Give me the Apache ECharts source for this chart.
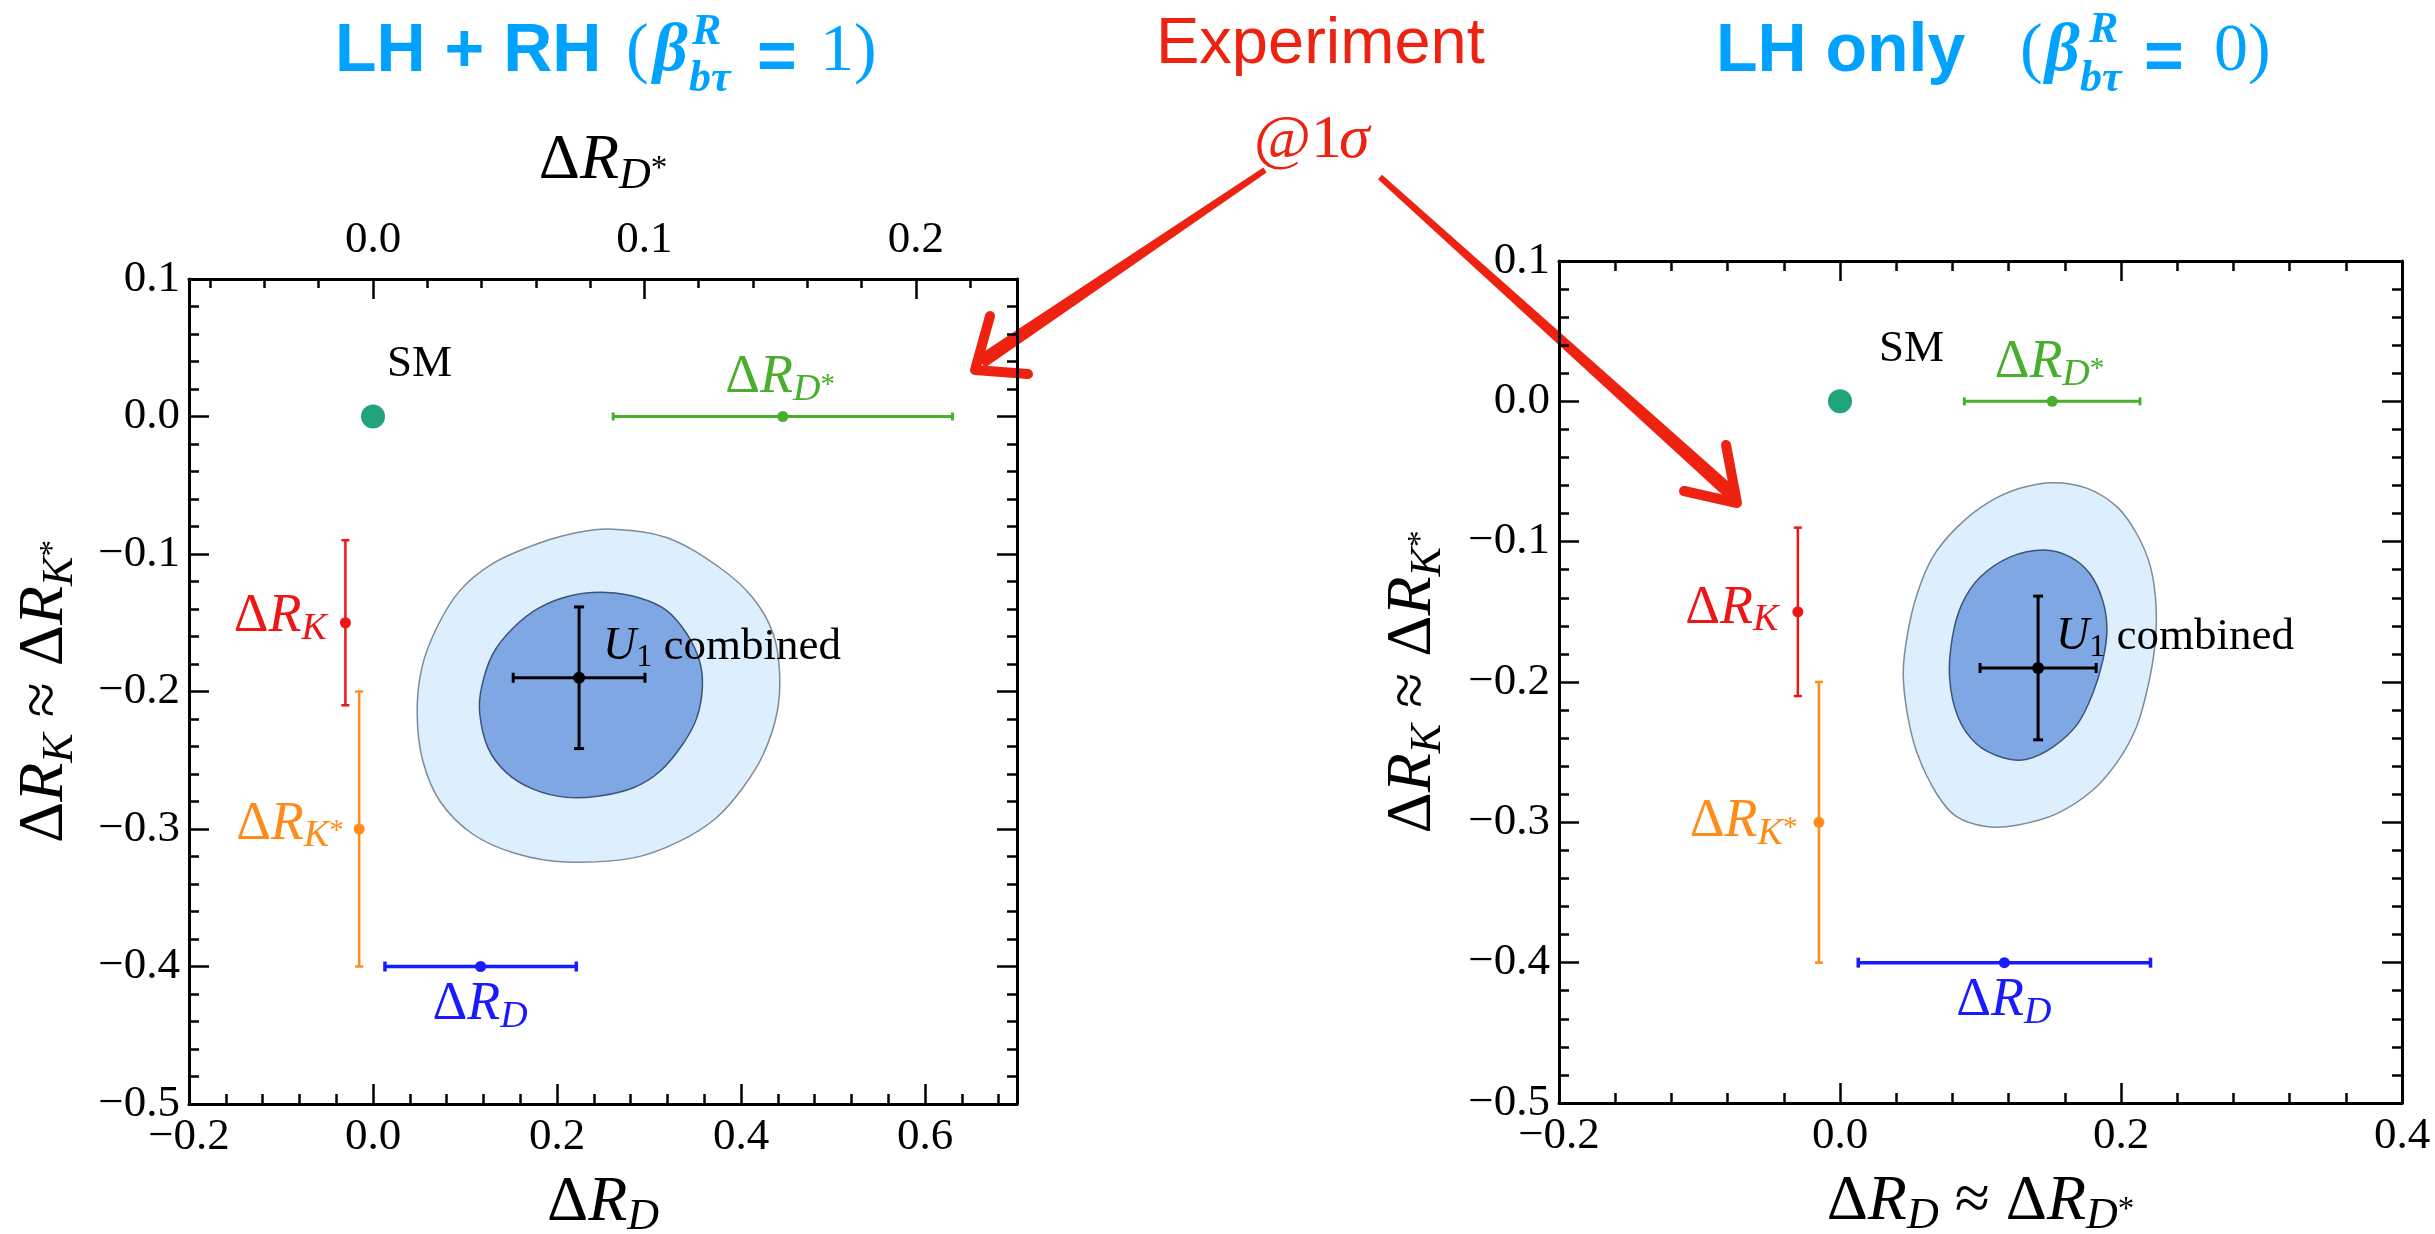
<!DOCTYPE html>
<html><head><meta charset="utf-8">
<script src="https://cdn.jsdelivr.net/npm/echarts@6/dist/echarts.min.js"></script>
<style>html,body{margin:0;padding:0;background:#fff}#chart{width:2435px;height:1234px}</style>
</head><body><div id="chart"></div>
<script>
// ---------------- axis ticks ----------------
const yTicks = [-0.5, -0.4, -0.3, -0.2, -0.1, 0.0, 0.1];
const leftXTicks = [-0.2, 0.0, 0.2, 0.4, 0.6];
const leftXRange = [-0.2, 0.7];
const leftDStarTicks = [0.0, 0.1, 0.2];
const leftDStarMinorTicks = [-0.06, -0.04, -0.02, 0.02, 0.04, 0.06, 0.08, 0.12, 0.14, 0.16, 0.18, 0.22];
const dStarPerD = 2.95;          // top axis of left panel: ΔR_D units per unit of ΔR_D*
const rightXTicks = [-0.2, 0.0, 0.2, 0.4];

// ---------------- data ----------------
const smPoint = [0.0, 0.0];
// experiment @1σ : [x, y, xErr, yErr]
const expRDstar = [0.151, 0.0, 0.0625, 0];   // ΔR_D* (left panel: read on top ΔR_D* axis)
const expRK = [-0.030, -0.150, 0, 0.060];
const expRKstar = [-0.015, -0.300, 0, 0.100];
const expRD = [0.117, -0.400, 0.104, 0];
// U1 combined best fit : [x, y, xErr, yErr]
const u1FitLeft = [0.224, -0.190, 0.0716, 0.0515];
const u1FitRight = [0.141, -0.190, 0.0413, 0.0512];

// confidence contours (LH + RH)
const leftOuter = [[0.261,-0.082],[0.319,-0.088],[0.377,-0.110],[0.413,-0.132],[0.435,-0.158],[0.442,-0.187],[0.439,-0.216],[0.424,-0.246],[0.402,-0.270],[0.373,-0.292],[0.333,-0.309],[0.283,-0.321],[0.210,-0.324],[0.156,-0.318],[0.109,-0.304],[0.073,-0.280],[0.054,-0.250],[0.048,-0.216],[0.053,-0.183],[0.069,-0.154],[0.094,-0.127],[0.130,-0.107],[0.181,-0.092],[0.225,-0.084]];
const leftInner = [[0.254,-0.128],[0.290,-0.132],[0.319,-0.141],[0.341,-0.158],[0.355,-0.178],[0.358,-0.197],[0.352,-0.219],[0.337,-0.238],[0.312,-0.258],[0.283,-0.270],[0.246,-0.276],[0.210,-0.277],[0.174,-0.271],[0.145,-0.259],[0.125,-0.241],[0.116,-0.216],[0.118,-0.197],[0.130,-0.173],[0.152,-0.154],[0.181,-0.139],[0.217,-0.130]];
// confidence contours (LH only)
const rightOuter = [[0.152,-0.058],[0.176,-0.062],[0.197,-0.075],[0.211,-0.094],[0.221,-0.118],[0.225,-0.147],[0.224,-0.175],[0.219,-0.204],[0.211,-0.232],[0.198,-0.256],[0.180,-0.277],[0.154,-0.294],[0.126,-0.302],[0.104,-0.303],[0.083,-0.296],[0.069,-0.280],[0.055,-0.251],[0.048,-0.223],[0.045,-0.194],[0.048,-0.166],[0.055,-0.137],[0.066,-0.111],[0.083,-0.090],[0.104,-0.073],[0.128,-0.062]];
const rightInner = [[0.145,-0.106],[0.164,-0.111],[0.178,-0.123],[0.187,-0.142],[0.190,-0.163],[0.187,-0.185],[0.180,-0.208],[0.169,-0.230],[0.152,-0.246],[0.133,-0.255],[0.116,-0.254],[0.097,-0.244],[0.084,-0.225],[0.078,-0.197],[0.080,-0.168],[0.087,-0.144],[0.100,-0.125],[0.121,-0.111]];

// ---------------- styles ----------------
const SERIF = 'Liberation Serif';
const TITLE_BLUE = '#00a2ff';
const RED_TXT = '#ee2211';
const C_RK = '#ee1515', C_RKS = '#ff8c1a', C_RDS = '#48ae2b', C_RD = '#1a1aff', C_SM = '#21a37c';

const axisLineStyle = {color: '#000', width: 3};
const tickStyle = {color: '#000', width: 2.5};
const tickLabel = {fontFamily: SERIF, fontSize: 45, color: '#000'};
function fmt(v) { const r = Math.round(v * 10) / 10; return (r < 0 ? '\u2212' : '') + Math.abs(r).toFixed(1); }
function fmtIn(list) { return v => list.some(t => Math.abs(t - v) < 1e-9) ? fmt(v) : ''; }

const axisRich = {
  d: {fontFamily: SERIF, fontSize: 64, lineHeight: 76, height: 76, color: '#000'},
  r: {fontFamily: SERIF, fontStyle: 'italic', fontSize: 64, lineHeight: 76, height: 76, color: '#000'},
  s: {fontFamily: SERIF, fontStyle: 'italic', fontSize: 44, lineHeight: 46, height: 46, verticalAlign: 'bottom', color: '#000'},
  st: {fontFamily: SERIF, fontSize: 33, lineHeight: 60, height: 60, verticalAlign: 'bottom', color: '#000'},
  a: {fontFamily: SERIF, fontSize: 64, lineHeight: 76, height: 76, color: '#000'}
};
function labelRich(color) {
  return {
    d: {fontFamily: SERIF, fontSize: 54, lineHeight: 64, height: 64, color},
    r: {fontFamily: SERIF, fontStyle: 'italic', fontSize: 54, lineHeight: 64, height: 64, color},
    s: {fontFamily: SERIF, fontStyle: 'italic', fontSize: 38, lineHeight: 40, height: 40, verticalAlign: 'bottom', color},
    st: {fontFamily: SERIF, fontSize: 29, lineHeight: 50, height: 50, verticalAlign: 'bottom', color},
    n: {fontFamily: SERIF, fontSize: 45, lineHeight: 58, height: 58, color},
    u: {fontFamily: SERIF, fontStyle: 'italic', fontSize: 46, lineHeight: 58, height: 58, color},
    o: {fontFamily: SERIF, fontSize: 32, lineHeight: 36, height: 36, verticalAlign: 'bottom', color}
  };
}
function lab(text, color, pos, align) {
  return {show: true, formatter: text, position: pos, align: align, verticalAlign: 'middle', rich: labelRich(color)};
}

// ---------------- series builders ----------------
function contourSeries(points, xi, yi, fill, stroke, z) {
  return {
    type: 'custom', xAxisIndex: xi, yAxisIndex: yi, z: z, silent: true, data: points,
    renderItem: (params, api) => {
      if (params.dataIndex !== 0) return {type: 'group', children: []};
      return {type: 'polygon', shape: {points: points.map(p => api.coord(p)), smooth: 0.35},
              style: {fill: fill, stroke: stroke, lineWidth: 1.5}};
    }
  };
}
function errorBarSeries(d, xi, yi, color, width, cap) {
  return {
    type: 'custom', xAxisIndex: xi, yAxisIndex: yi, z: 5, silent: true, data: [d],
    renderItem: (params, api) => {
      const x = api.value(0), y = api.value(1), xe = api.value(2), ye = api.value(3);
      const st = {stroke: color, lineWidth: width};
      const ch = [];
      const seg = (x1, y1, x2, y2) => ch.push({type: 'line', shape: {x1, y1, x2, y2}, style: st});
      if (xe > 0) {
        const a = api.coord([x - xe, y]), b = api.coord([x + xe, y]);
        seg(a[0], a[1], b[0], b[1]);
        seg(a[0], a[1] - cap, a[0], a[1] + cap);
        seg(b[0], b[1] - cap, b[0], b[1] + cap);
      }
      if (ye > 0) {
        const a = api.coord([x, y + ye]), b = api.coord([x, y - ye]);
        seg(a[0], a[1], b[0], b[1]);
        seg(a[0] - cap, a[1], a[0] + cap, a[1]);
        seg(b[0] - cap, b[1], b[0] + cap, b[1]);
      }
      return {type: 'group', children: ch};
    }
  };
}
function pointSeries(d, xi, yi, color, size, label) {
  return {type: 'scatter', xAxisIndex: xi, yAxisIndex: yi, z: 6, silent: true, symbol: 'circle',
          symbolSize: size, itemStyle: {color: color, opacity: 1}, data: [[d[0], d[1]]], label: label};
}

// ---------------- axes ----------------
function baseAxis(extra) {
  return Object.assign({
    type: 'value',
    axisLine: {show: true, onZero: false, lineStyle: axisLineStyle},
    axisTick: {show: true, inside: true, length: 20, lineStyle: tickStyle},
    minorTick: {show: true, splitNumber: 5, length: 10, lineStyle: tickStyle},
    axisLabel: {show: false},
    splitLine: {show: false}, minorSplitLine: {show: false}
  }, extra);
}
const X_LEFT = '{d|Δ}{r|R}{s|D}';
const X_LEFT_TOP = '{d|Δ}{r|R}{s|D}{st|*}';
const X_RIGHT = '{d|Δ}{r|R}{s|D}{a| ≈ }{d|Δ}{r|R}{s|D}{st|*}';
const Y_NAME = '{d|Δ}{r|R}{s|K}{a| ≈ }{d|Δ}{r|R}{s|K}{st|*}';

const xAxes = [
  baseAxis({gridIndex: 0, position: 'bottom', min: leftXRange[0], max: leftXRange[1], interval: 0.2,
    axisLabel: Object.assign({show: true, margin: 11, formatter: fmtIn(leftXTicks)}, tickLabel),
    name: X_LEFT, nameLocation: 'middle', nameGap: 58, nameTextStyle: {rich: axisRich}}),
  baseAxis({gridIndex: 0, position: 'top', min: leftXRange[0] / dStarPerD, max: leftXRange[1] / dStarPerD,
    axisTick: {show: true, inside: true, length: 20, customValues: leftDStarTicks, lineStyle: tickStyle},
    minorTick: {show: false},
    axisLabel: Object.assign({show: true, margin: 16, customValues: leftDStarTicks, formatter: fmt}, tickLabel),
    name: X_LEFT_TOP, nameLocation: 'middle', nameGap: 80, nameTextStyle: {rich: axisRich}}),
  baseAxis({gridIndex: 0, position: 'top', min: leftXRange[0] / dStarPerD, max: leftXRange[1] / dStarPerD,
    axisLine: {show: false, onZero: false},
    axisTick: {show: true, inside: true, length: 9, customValues: leftDStarMinorTicks, lineStyle: tickStyle},
    minorTick: {show: false}}),
  baseAxis({gridIndex: 1, position: 'bottom', min: rightXTicks[0], max: rightXTicks[rightXTicks.length - 1], interval: 0.2,
    axisLabel: Object.assign({show: true, margin: 11, formatter: fmt}, tickLabel),
    name: X_RIGHT, nameLocation: 'middle', nameGap: 59, nameTextStyle: {rich: axisRich}}),
  baseAxis({gridIndex: 1, position: 'top', min: rightXTicks[0], max: rightXTicks[rightXTicks.length - 1], interval: 0.2})
];
const yAxes = [
  baseAxis({gridIndex: 0, position: 'left', min: yTicks[0], max: yTicks[yTicks.length - 1], interval: 0.1,
    axisLabel: Object.assign({show: true, margin: 9, formatter: fmt}, tickLabel),
    name: Y_NAME, nameLocation: 'middle', nameGap: 106, nameTextStyle: {rich: axisRich}}),
  baseAxis({gridIndex: 0, position: 'right', min: yTicks[0], max: yTicks[yTicks.length - 1], interval: 0.1}),
  baseAxis({gridIndex: 1, position: 'left', min: yTicks[0], max: yTicks[yTicks.length - 1], interval: 0.1,
    axisLabel: Object.assign({show: true, margin: 9, formatter: fmt}, tickLabel),
    name: Y_NAME, nameLocation: 'middle', nameGap: 108, nameTextStyle: {rich: axisRich}}),
  baseAxis({gridIndex: 1, position: 'right', min: yTicks[0], max: yTicks[yTicks.length - 1], interval: 0.1})
];

// ---------------- series ----------------
const L_RDS = '{d|Δ}{r|R}{s|D}{st|*}', L_RK = '{d|Δ}{r|R}{s|K}', L_RKS = '{d|Δ}{r|R}{s|K}{st|*}', L_RD = '{d|Δ}{r|R}{s|D}';
const L_U1 = '{u|U}{o|1}{n| combined}';
const series = [
  // left panel
  contourSeries(leftOuter, 0, 0, '#ddeefd', '#7d8b9b', 1),
  contourSeries(leftInner, 0, 0, '#7fa7e4', '#3b5478', 2),
  errorBarSeries(u1FitLeft, 0, 0, '#000', 3, 5),
  pointSeries(u1FitLeft, 0, 0, '#000', 12, lab(L_U1, '#000', [30, -25], 'left')),
  errorBarSeries(expRDstar, 1, 0, C_RDS, 3, 4),
  pointSeries(expRDstar, 1, 0, C_RDS, 11, lab(L_RDS, C_RDS, [-52, -33], 'left')),
  errorBarSeries(expRK, 0, 0, C_RK, 2.5, 4),
  pointSeries(expRK, 0, 0, C_RK, 11, lab(L_RK, C_RK, [-13, 0], 'right')),
  errorBarSeries(expRKstar, 0, 0, C_RKS, 2.5, 4),
  pointSeries(expRKstar, 0, 0, C_RKS, 11, lab(L_RKS, C_RKS, [-10, 1], 'right')),
  errorBarSeries(expRD, 0, 0, C_RD, 3.5, 5),
  pointSeries(expRD, 0, 0, C_RD, 11, lab(L_RD, C_RD, [5, 44], 'center')),
  pointSeries(smPoint, 0, 0, C_SM, 24, lab('{n|SM}', '#000', [26, -40], 'left')),
  // right panel
  contourSeries(rightOuter, 3, 2, '#ddeefd', '#7d8b9b', 1),
  contourSeries(rightInner, 3, 2, '#7fa7e4', '#3b5478', 2),
  errorBarSeries(u1FitRight, 3, 2, '#000', 3, 5),
  pointSeries(u1FitRight, 3, 2, '#000', 12, lab(L_U1, '#000', [24, -25], 'left')),
  errorBarSeries(expRDstar, 3, 2, C_RDS, 3, 4),
  pointSeries(expRDstar, 3, 2, C_RDS, 11, lab(L_RDS, C_RDS, [-52, -33], 'left')),
  errorBarSeries(expRK, 3, 2, C_RK, 2.5, 4),
  pointSeries(expRK, 3, 2, C_RK, 11, lab(L_RK, C_RK, [-14, 2], 'right')),
  errorBarSeries(expRKstar, 3, 2, C_RKS, 2.5, 4),
  pointSeries(expRKstar, 3, 2, C_RKS, 11, lab(L_RKS, C_RKS, [-16, 5], 'right')),
  errorBarSeries(expRD, 3, 2, C_RD, 3.5, 5),
  pointSeries(expRD, 3, 2, C_RD, 11, lab(L_RD, C_RD, [5, 44], 'center')),
  pointSeries(smPoint, 3, 2, C_SM, 24, lab('{n|SM}', '#000', [51, -40], 'left'))
];

// ---------------- annotations (titles, arrows) ----------------
function txt(text, x, y, font, fill) {
  return {type: 'text', x: x, y: y, silent: true,
          style: {text: text, font: font, fill: fill, align: 'left', verticalAlign: 'middle',
                  textAlign: 'left', textVerticalAlign: 'middle'}};
}
const SANS_B68 = 'bold 68px "Liberation Sans"';
const SER68 = '68px "Liberation Serif"';
const SER_BI68 = 'italic bold 68px "Liberation Serif"';
const SER_BI44 = 'italic bold 44px "Liberation Serif"';
function shaft(x1, y1, x2, y2, w1, w2) {
  const dx = x2 - x1, dy = y2 - y1, L = Math.hypot(dx, dy), nx = -dy / L, ny = dx / L;
  return {type: 'polygon', silent: true,
          shape: {points: [[x1 + nx * w1, y1 + ny * w1], [x2 + nx * w2, y2 + ny * w2], [x2 - nx * w2, y2 - ny * w2], [x1 - nx * w1, y1 - ny * w1]]},
          style: {fill: RED_TXT}};
}
function head(pts) {
  return {type: 'polyline', silent: true, shape: {points: pts},
          style: {stroke: RED_TXT, lineWidth: 10, lineJoin: 'round', lineCap: 'round', fill: null}};
}
const graphic = [
  txt('LH + RH', 335, 52, SANS_B68, TITLE_BLUE),
  txt('(', 626, 52, SER68, TITLE_BLUE),
  txt('β', 653, 52, SER_BI68, TITLE_BLUE),
  txt('R', 692, 33, SER_BI44, TITLE_BLUE),
  txt('bτ', 689, 80, SER_BI44, TITLE_BLUE),
  txt('=', 757, 60, SANS_B68, TITLE_BLUE),
  txt('1)', 820, 52, SER68, TITLE_BLUE),

  txt('LH only', 1716, 52, SANS_B68, TITLE_BLUE),
  txt('(', 2020, 52, SER68, TITLE_BLUE),
  txt('β', 2045, 52, SER_BI68, TITLE_BLUE),
  txt('R', 2089, 31, SER_BI44, TITLE_BLUE),
  txt('bτ', 2080, 80, SER_BI44, TITLE_BLUE),
  txt('=', 2144, 60, SANS_B68, TITLE_BLUE),
  txt('0)', 2214, 52, SER68, TITLE_BLUE),

  txt('Experiment', 1156, 45, '65px "Liberation Sans"', RED_TXT),
  txt('@1', 1254, 141, '62px "Liberation Serif"', RED_TXT),
  txt('σ', 1339, 141, 'italic 62px "Liberation Serif"', RED_TXT),

  shaft(1265, 170, 981, 362, 3, 7),
  head([[990, 316], [975, 370], [1028, 374]]),
  shaft(1380, 177, 1733, 495, 3, 7),
  head([[1726, 445], [1737, 503], [1684, 491]])
];

const chart = echarts.init(document.getElementById('chart'), null, {renderer: 'canvas'});
chart.setOption({
  backgroundColor: '#fff',
  animation: false,
  grid: [
    {left: 189, top: 279, width: 828, height: 825, containLabel: false, outerBoundsMode: 'none'},
    {left: 1559, top: 261, width: 843, height: 842, containLabel: false, outerBoundsMode: 'none'}
  ],
  xAxis: xAxes,
  yAxis: yAxes,
  series: series,
  graphic: graphic
});
</script>
</body></html>
